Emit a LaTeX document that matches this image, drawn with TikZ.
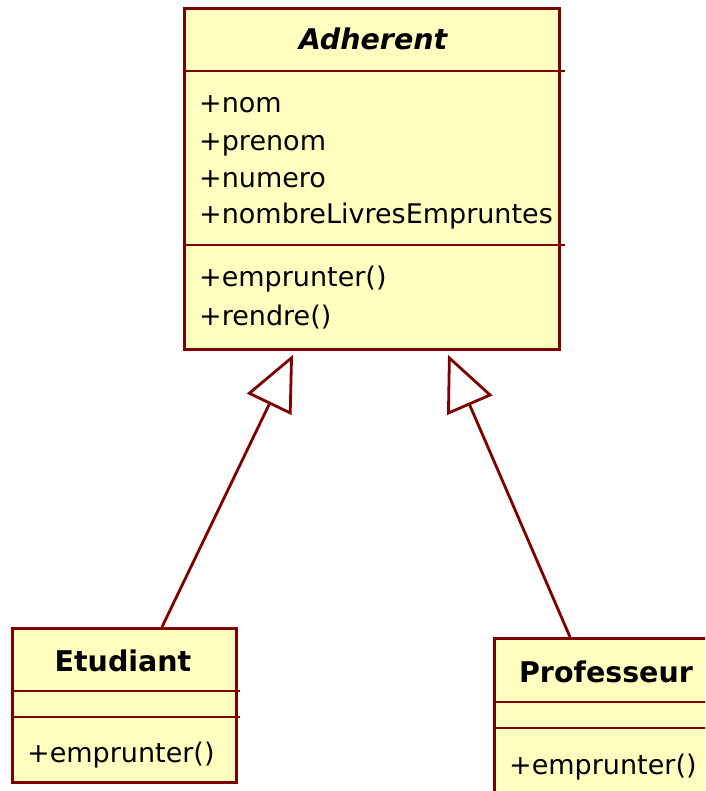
\documentclass[tikz,border=0pt]{standalone}
\usepackage{fontspec}
\setmainfont{DejaVu Sans}
\usetikzlibrary{arrows.meta,calc}
\definecolor{umlred}{RGB}{128,0,0}
\definecolor{umlfill}{RGB}{255,255,192}
\tikzset{
  umlline/.style={draw=umlred, line width=2.8pt},
  classbox/.style={umlline, fill=umlfill, rectangle, anchor=north west, inner sep=0pt},
  member/.style={anchor=base west, inner sep=0pt, font=\fontsize{27}{27}\selectfont},
  classname/.style={anchor=base, inner sep=0pt, font=\fontsize{28.5}{28.5}\selectfont\bfseries},
  generalization/.style={umlline, -{Triangle[open, fill=white, length=55pt, width=49pt]}},
}
\begin{document}
\begin{tikzpicture}[x=1pt, y=-1pt]
  \clip (0,0) rectangle (705,791);
  \fill[white] (0,0) rectangle (705,791);

  % abstract class Adherent
  \node[classbox, minimum width=375pt, minimum height=341pt] (adh) at (183,7) {};
  \draw[umlline] ($(adh.north west)+(0,64)$) -- ($(adh.north east)+(4,64)$);
  \draw[umlline] ($(adh.north west)+(0,238)$) -- ($(adh.north east)+(4,238)$);
  \node[classname, font=\fontsize{28.5}{28.5}\selectfont\bfseries\itshape] (adhname) at (373,50) {Adherent};
  \node[member] (adhA) at (199,113) {+nom};
  \node[member] (adhB) at (199,150.5) {+prenom};
  \node[member] (adhC) at (199,187.5) {+numero};
  \node[member] (adhD) at (199,224) {+nombreLivresEmpruntes};
  \node[member] (adhM) at (199,287) {+emprunter()};
  \node[member] (adhN) at (199,325) {+rendre()};

  % class Etudiant
  \node[classbox, minimum width=224pt, minimum height=154pt] (etu) at (11,627) {};
  \draw[umlline] ($(etu.north west)+(0,64)$) -- ($(etu.north east)+(2,64)$);
  \draw[umlline] ($(etu.north west)+(0,90)$) -- ($(etu.north east)+(2,90)$);
  \node[classname] (etuname) at (123,671) {Etudiant};
  \node[member] (etuM) at (27,762) {+emprunter()};

  % class Professeur
  \node[classbox, minimum width=240pt, minimum height=180pt] (prof) at (493,637) {};
  \draw[umlline] ($(prof.north west)+(0,65)$) -- ($(prof.north east)+(0,65)$);
  \draw[umlline] ($(prof.north west)+(0,91)$) -- ($(prof.north east)+(0,91)$);
  \node[classname] (profname) at (606,682) {Professeur};
  \node[member] (profM) at (509,774) {+emprunter()};

  % generalization connectors
  \coordinate (etuTop) at ($(etu.north west)+(151,0)$);
  \coordinate (profTop) at ($(prof.north west)+(77,0)$);
  \coordinate (tipL) at ($(adh.south west)+(110,4)$);
  \coordinate (tipR) at ($(adh.south west)+(265,4)$);
  \draw[generalization] (etuTop) -- (tipL);
  \draw[generalization] (profTop) -- (tipR);
\end{tikzpicture}
\end{document}
